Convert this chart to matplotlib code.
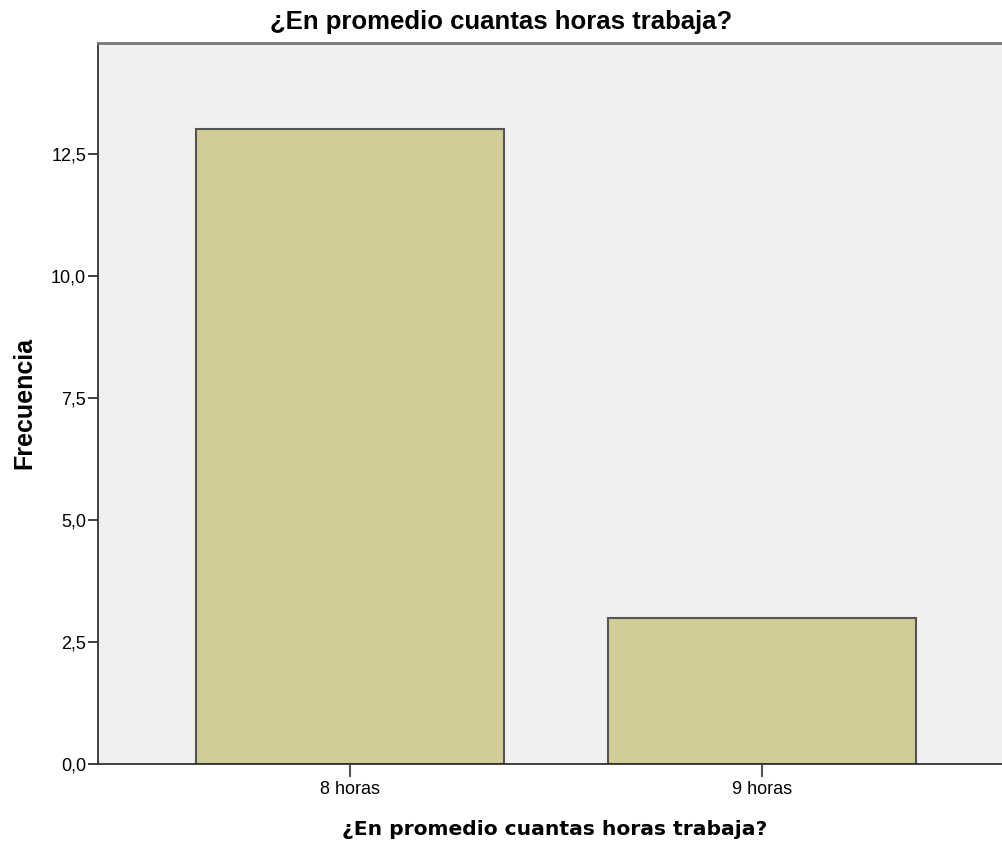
import matplotlib
matplotlib.use("Agg")
import matplotlib.pyplot as plt
from matplotlib.ticker import FuncFormatter

# data
categories = ["8 horas", "9 horas"]
frecuencia = [13, 3]
y_ticks = [0, 2.5, 5, 7.5, 10, 12.5]

TITLE = "¿En promedio cuantas horas trabaja?"

fig = plt.figure(figsize=(10.02, 8.46), dpi=100)
ax = fig.add_axes([0.0978, 0.0969, 0.9022, 0.8523])
ax.set_facecolor("#F0F0F0")

x = list(range(len(categories)))
ax.bar(x, frecuencia, width=0.748, color="#D2CD96", edgecolor="#555555",
       linewidth=1.5, zorder=2)

ax.set_xlim(-0.612, 1.583)
ax.set_ylim(0, 14.77)
ax.set_xticks(x)
ax.set_xticklabels(categories, fontsize=13, family="Liberation Sans")
ax.set_yticks(y_ticks)
ax.yaxis.set_major_formatter(FuncFormatter(lambda v, p: f"{v:.1f}".replace(".", ",")))
for lab in ax.get_yticklabels():
    lab.set_fontsize(13)
    lab.set_family("Liberation Sans")
ax.tick_params(axis="y", length=7, width=1.3, color="#333333", pad=1.5)
ax.tick_params(axis="x", length=9, width=1.5, color="#555555", pad=3)

for side in ["left", "bottom"]:
    ax.spines[side].set_color("#333333")
    ax.spines[side].set_linewidth(1.3)
ax.spines["top"].set_color("#777777")
ax.spines["top"].set_linewidth(2)
ax.spines["right"].set_visible(False)

ax.set_ylabel("Frecuencia", fontsize=18, fontweight="bold", family="Liberation Sans")
ax.yaxis.set_label_coords((24 - 98) / 904, 0.5)
ax.yaxis.label.set_va("center")
ax.set_xlabel(TITLE, fontsize=14.6, fontweight="bold", family="DejaVu Sans")
ax.xaxis.set_label_coords((555 - 98) / 904, (764 - 829) / 721)
ax.xaxis.label.set_va("center")

fig.text(501 / 1002, 1 - 22 / 846, TITLE, ha="center", va="center",
         fontsize=18.5, fontweight="bold", family="Liberation Sans")

fig.savefig("out.png", dpi=100)
